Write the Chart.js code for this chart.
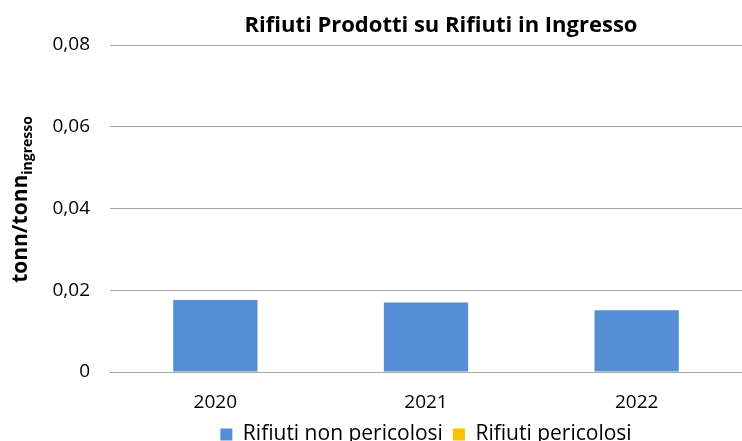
<!DOCTYPE html>
<html lang="it">
<head>
<meta charset="utf-8">
<title>Rifiuti Prodotti su Rifiuti in Ingresso</title>
<script src="https://cdn.jsdelivr.net/npm/chart.js@4.4.1/dist/chart.umd.min.js"></script>
<style>
  html, body { margin: 0; padding: 0; background: #fff; }
  #wrap { width: 742px; height: 441px; position: relative; }
</style>
</head>
<body>
<div id="wrap"><canvas id="rifiuti-chart"></canvas></div>
<script>
// Dati del grafico
const anni = ["2020", "2021", "2022"];
const nonPericolosi = [0.0176, 0.0170, 0.0151];
const pericolosi = [0, 0, 0];
const tickValori = [0, 0.02, 0.04, 0.06, 0.08];

const titolo = "Rifiuti Prodotti su Rifiuti in Ingresso";
const titoloAsse = "tonn/tonn";
const pedice = "ingresso";

const FONT = "'Open Sans', 'Noto Sans', sans-serif";

function formatta(v) {
  if (v === 0) return "0";
  return v.toFixed(2).replace(".", ",");
}

// Titolo e titolo dell'asse Y (con pedice) disegnati a mano
const testiPlugin = {
  id: "testi",
  afterDraw(chart) {
    const ctx = chart.ctx;
    const area = chart.chartArea;
    ctx.save();
    ctx.fillStyle = "#000";
    ctx.font = "bold 22px " + FONT;
    ctx.textAlign = "center";
    ctx.textBaseline = "alphabetic";
    ctx.fillText(titolo, 441, 32);

    // titolo asse ruotato
    ctx.font = "bold 21px " + FONT;
    const wMain = ctx.measureText(titoloAsse).width;
    ctx.font = "bold 14px " + FONT;
    const wSub = ctx.measureText(pedice).width;
    const centroY = (area.top + area.bottom) / 2 - 9;
    ctx.translate(27, centroY + (wMain + wSub) / 2);
    ctx.rotate(-Math.PI / 2);
    ctx.textAlign = "left";
    ctx.font = "bold 21px " + FONT;
    ctx.fillText(titoloAsse, 0, 0);
    ctx.font = "bold 14px " + FONT;
    ctx.fillText(pedice, wMain, 5);
    ctx.restore();
  }
};

const ctx = document.getElementById("rifiuti-chart").getContext("2d");
new Chart(ctx, {
  type: "bar",
  data: {
    labels: anni,
    datasets: [
      {
        label: "Rifiuti non pericolosi",
        data: nonPericolosi,
        backgroundColor: "#558ED5",
        borderWidth: 0,
        categoryPercentage: 0.8,
        barPercentage: 0.5
      },
      {
        label: "Rifiuti pericolosi",
        data: pericolosi,
        backgroundColor: "#FFC000",
        borderWidth: 0,
        categoryPercentage: 0.8,
        barPercentage: 0.5
      }
    ]
  },
  options: {
    responsive: true,
    maintainAspectRatio: false,
    animation: false,
    layout: { padding: { top: 45, right: 0, bottom: -14, left: 0 } },
    plugins: {
      title: { display: false },
      tooltip: { enabled: false },
      legend: {
        position: "bottom",
        fullSize: false,
        labels: {
          color: "#000",
          font: { family: FONT, size: 21 },
          boxWidth: 12,
          boxHeight: 12,
          padding: 10
        }
      }
    },
    scales: {
      x: {
        stacked: true,
        afterFit(scale) { scale.height = 42; },
        grid: { display: false },
        border: { display: true, color: "#A6A6A6", width: 1 },
        ticks: {
          color: "#000",
          font: { family: FONT, size: 19 },
          padding: 11
        }
      },
      y: {
        stacked: true,
        min: 0,
        max: 0.08,
        afterFit(scale) { scale.width = 110; },
        afterBuildTicks(scale) {
          scale.ticks = tickValori.map(v => ({ value: v }));
        },
        grid: {
          color: "#A6A6A6",
          lineWidth: 1,
          drawTicks: false
        },
        border: { display: false },
        ticks: {
          color: "#000",
          font: { family: FONT, size: 19 },
          padding: 20,
          callback: v => formatta(v)
        }
      }
    }
  },
  plugins: [testiPlugin]
});
</script>
</body>
</html>
